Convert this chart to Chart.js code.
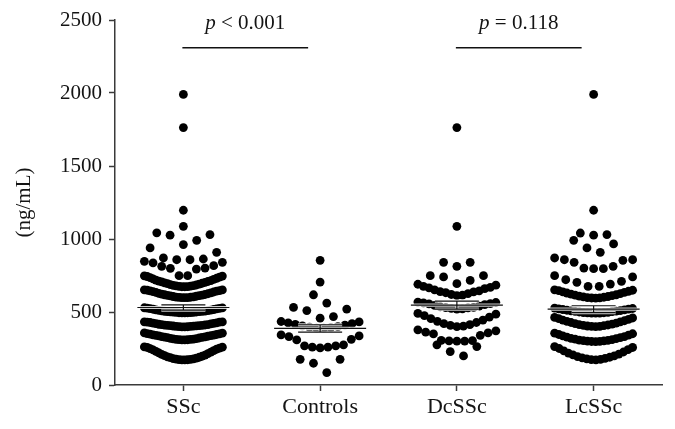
<!DOCTYPE html>
<html><head><meta charset="utf-8">
<script src="https://cdn.jsdelivr.net/npm/chart.js@4.4.0/dist/chart.umd.min.js"></script>
<style>html,body{margin:0;padding:0;background:#fff;}#wrap{width:675px;height:429px;}</style>
</head><body><div id="wrap"><canvas id="c" width="675" height="429"></canvas></div>
<script>
// ---------------- data ----------------
const categories = ['SSc', 'Controls', 'DcSSc', 'LcSSc'];
const yTicks = [0, 500, 1000, 1500, 2000, 2500];
const yAxisTitle = '(ng/mL)';

const sscValues = [
  172,172,173,174,175,177,179,181,184,187,190,193,197,201,205,210,215,220,225,230,235,240,245,249,253,257,259,261,
  309,309,310,311,312,313,314,316,318,320,322,324,326,328,330,332,334,336,338,340,342,344,346,348,350,352,355,357,
  398,398,399,400,401,402,403,404,405,406,407,408,409,410,411,413,414,416,418,420,422,424,426,428,430,431,432,433,
  494,494,495,495,496,497,498,499,500,501,502,503,504,505,506,508,510,511,513,515,517,519,521,523,525,527,528,529,
  598,598,599,600,601,602,604,606,608,610,612,614,616,618,620,622,625,628,631,634,637,640,643,645,647,649,651,652,
  673,673,674,675,677,679,681,683,685,688,691,694,697,700,703,706,709,712,715,719,723,727,731,735,739,743,746,748,
  749,749,794,799,801,813,817,836,840,847,
  858,858,863,870,909,939,
  962,991,1026,1030,1042,
  1087,1197,1763,1990
];
const controlsValues = [
  85,149,176,176,
  254,259,259,268,268,275,309,313,332,336,343,
  389,390,393,397,400,405,410,415,420,425,432,435,
  458,469,510,520,531,
  561,618,705,854
];
const dcsscValues = [
  199,229,263,275,
  300,301,302,304,306,340,350,357,362,371,378,
  400,403,408,413,420,428,436,445,455,465,475,485,490,
  520,522,525,528,530,532,536,540,545,550,556,558,562,565,568,
  612,615,620,626,632,638,640,645,652,660,665,668,676,684,690,
  694,716,740,749,749,
  813,840,840,
  1087,1763
];
const lcsscValues = [
  172,174,176,179,182,186,190,195,200,206,212,219,226,234,242,250,257,263,
  297,298,299,300,302,304,306,308,311,314,317,320,324,328,332,336,341,346,351,355,
  400,401,402,404,406,408,411,414,417,420,424,428,432,436,440,445,450,455,459,463,
  492,492,493,494,495,496,498,500,502,504,506,508,510,512,515,517,520,522,524,526,
  595,596,597,599,601,603,606,609,612,615,618,622,626,630,634,638,642,646,649,652,
  675,675,691,703,710,721,740,749,
  797,797,801,813,840,854,858,858,870,
  909,939,966,991,
  1026,1030,1041,
  1197,1990
];
const comparisonPairs = [[0, 1], [2, 3]];
const comparisonTexts = ['< 0.001', '= 0.118'];

// ---------------- layout (dot-plot arrangement) ----------------
const groups = [sscValues, controlsValues, dcsscValues, lcsscValues];
const SWARM = { rowRange: 100, maxPerRow: [28, 12, 15, 20], rowWidth: 78, maxStep: 13.3 };

function swarmOffsets(values, maxPerRow) {
  const idx = values.map((v, i) => i).sort((a, b) => values[a] - values[b]);
  const off = new Array(values.length).fill(0);
  let row = [], start = 0;
  const flush = () => {
    const n = row.length; if (!n) return;
    const step = n > 1 ? Math.min(SWARM.maxStep, SWARM.rowWidth / (n - 1)) : 0;
    row.forEach((i, k) => {
      let slot;
      if (n % 2 === 1) { if (k === 0) slot = 0; else { const m = Math.ceil(k / 2); slot = (k % 2 === 1) ? m : -m; } }
      else { const m = Math.floor(k / 2) + 0.5; slot = (k % 2 === 0) ? m : -m; }
      off[i] = slot * step;
    });
    row = [];
  };
  for (const i of idx) {
    const v = values[i];
    if (row.length && (v - start >= SWARM.rowRange || row.length >= maxPerRow)) flush();
    if (!row.length) start = v;
    row.push(i);
  }
  flush();
  return off;
}
const offsets = groups.map((g, i) => swarmOffsets(g, SWARM.maxPerRow[i]));

const FONT = '"Liberation Serif", "Times New Roman", serif';
const TEXT = '#141414';
const AXIS = '#3a3a3a';

const swarmPlugin = {
  id: 'swarm',
  afterDatasetsUpdate(chart) {
    const xs = chart.scales.x;
    chart.data.datasets.forEach((ds, di) => {
      const meta = chart.getDatasetMeta(di);
      const cx = xs.getPixelForValue(di + 1);
      meta.data.forEach((el, i) => { el.x = cx + offsets[di][i]; });
    });
  }
};

const meanPlugin = {
  id: 'meanSem',
  afterDatasetsDraw(chart) {
    const { ctx, scales: { x, y } } = chart;
    groups.forEach((vals, g) => {
      const n = vals.length;
      const mean = vals.reduce((a, b) => a + b, 0) / n;
      const sd = Math.sqrt(vals.reduce((a, b) => a + (b - mean) * (b - mean), 0) / (n - 1));
      const sem = sd / Math.sqrt(n);
      const cx = x.getPixelForValue(g + 1);
      const ym = y.getPixelForValue(mean), yt = y.getPixelForValue(mean + sem), yb = y.getPixelForValue(mean - sem);
      const segs = [[cx - 46, ym, cx + 46, ym], [cx - 22, yt, cx + 22, yt], [cx - 22, yb, cx + 22, yb], [cx, yt, cx, yb]];
      const draw = () => { ctx.beginPath(); segs.forEach(s => { ctx.moveTo(s[0], s[1]); ctx.lineTo(s[2], s[3]); }); ctx.stroke(); };
      ctx.save();
      ctx.lineCap = 'butt';
      ctx.strokeStyle = 'rgba(255,255,255,0.8)'; ctx.lineWidth = 3.2; draw();
      ctx.strokeStyle = '#111'; ctx.lineWidth = 1.2; draw();
      ctx.restore();
    });
  }
};

const annotPlugin = {
  id: 'pvals',
  afterDraw(chart) {
    const { ctx, scales: { x, y } } = chart;
    const lineY = y.getPixelForValue(2310);
    const textY = y.getPixelForValue(2438);
    comparisonPairs.forEach((pair, i) => {
      const x1 = x.getPixelForValue(pair[0] + 1) - 1;
      const x2 = x.getPixelForValue(pair[1] + 1) - 12;
      ctx.save();
      ctx.strokeStyle = '#111'; ctx.lineWidth = 1.5;
      ctx.beginPath(); ctx.moveTo(x1, lineY); ctx.lineTo(x2, lineY); ctx.stroke();
      const fi = 'italic 21px ' + FONT, fn = '21px ' + FONT;
      ctx.font = fi; const wp = ctx.measureText('p').width;
      const rest = ' ' + comparisonTexts[i];
      ctx.font = fn; const wr = ctx.measureText(rest).width;
      const sx = (x1 + x2) / 2 - (wp + wr) / 2;
      ctx.fillStyle = TEXT; ctx.textBaseline = 'alphabetic'; ctx.textAlign = 'left';
      ctx.font = fi; ctx.fillText('p', sx, textY);
      ctx.font = fn; ctx.fillText(rest, sx + wp, textY);
      ctx.restore();
    });
  }
};

const datasets = groups.map((vals, g) => ({
  label: categories[g],
  data: vals.map(v => ({ x: g + 1, y: v })),
  backgroundColor: '#000',
  borderWidth: 0,
  pointRadius: 4.4,
  pointHoverRadius: 4.4,
  clip: false
}));

new Chart(document.getElementById('c').getContext('2d'), {
  type: 'scatter',
  data: { datasets },
  options: {
    responsive: false,
    animation: false,
    devicePixelRatio: 1,
    layout: { padding: { top: 20, right: 13, left: 0, bottom: 0 } },
    plugins: { legend: { display: false }, tooltip: { enabled: false } },
    scales: {
      x: {
        type: 'linear', min: 0.5, max: 4.5,
        afterBuildTicks: s => { s.ticks = categories.map((c, i) => ({ value: i + 1 })); },
        afterFit: s => { s.height = 44; },
        ticks: { callback: v => categories[Math.round(v) - 1] || '', font: { family: FONT, size: 22 }, color: TEXT, padding: 3, autoSkip: false, maxRotation: 0 },
        grid: { drawOnChartArea: false, drawTicks: true, tickLength: 6, color: AXIS, tickWidth: 1.5 },
        border: { display: true, color: AXIS, width: 1.5 }
      },
      y: {
        min: 0, max: 2500,
        afterBuildTicks: s => { s.ticks = yTicks.map(v => ({ value: v })); },
        afterFit: s => { s.width = 115; },
        ticks: { callback: v => String(v), font: { family: FONT, size: 21 }, color: TEXT, padding: 7 },
        grid: { drawOnChartArea: false, drawTicks: true, tickLength: 6, color: AXIS, tickWidth: 1.5 },
        border: { display: true, color: AXIS, width: 1.5 },
        title: { display: true, text: yAxisTitle, font: { family: FONT, size: 21 }, color: TEXT, padding: { top: 12, bottom: 0 } }
      }
    }
  },
  plugins: [swarmPlugin, meanPlugin, annotPlugin]
});
</script></body></html>
